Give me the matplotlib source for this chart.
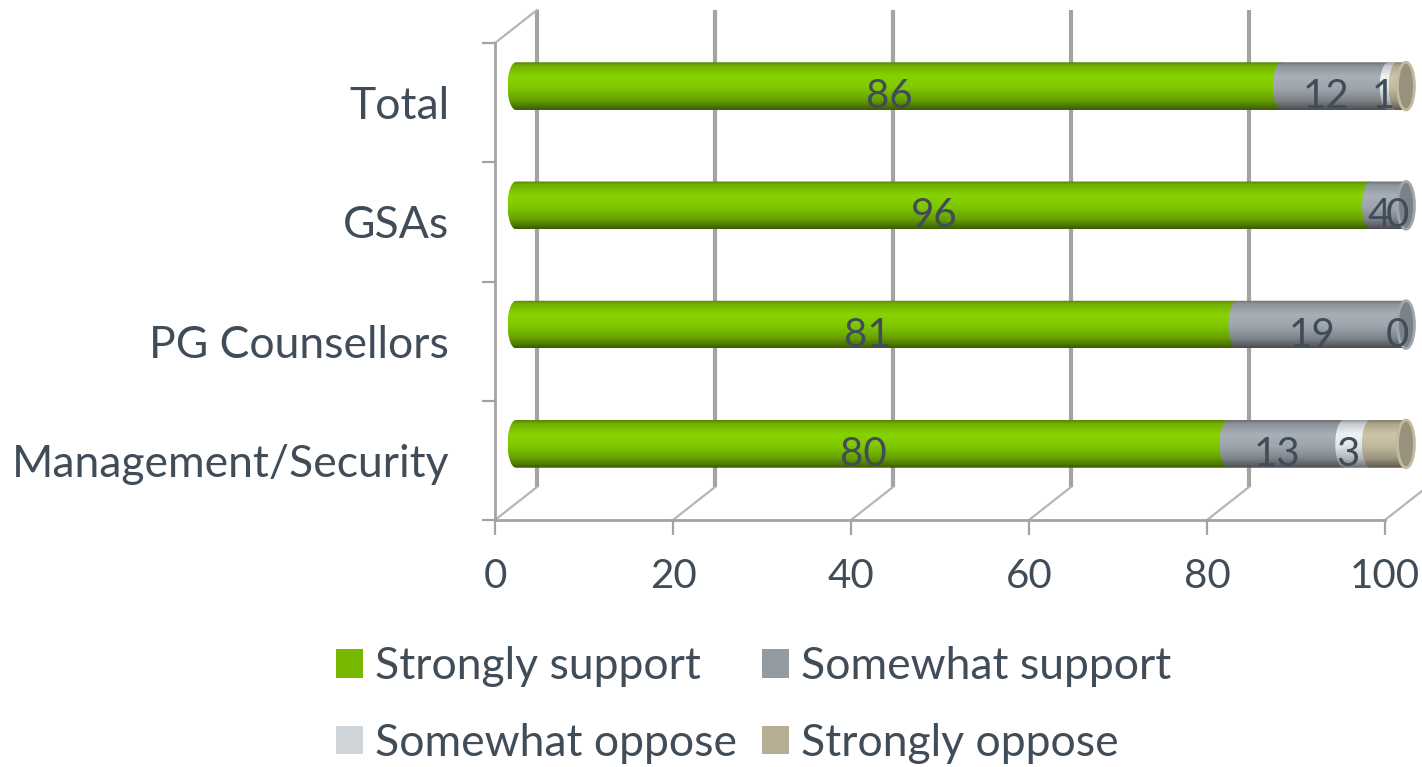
import numpy as np
import matplotlib
matplotlib.use("Agg")
import matplotlib.pyplot as plt
from matplotlib.colors import to_rgb
from matplotlib.patches import Ellipse, Patch, PathPatch
from matplotlib.path import Path

plt.rcParams["font.family"] = ["Lato", "DejaVu Sans"]

# bottom-to-top order, as drawn
categories = ["Management/Security", "PG Counsellors", "GSAs", "Total"]
strongly_support = [80, 81, 96, 86]
somewhat_support = [13, 19, 4, 12]
somewhat_oppose = [3, 0, 0, 1]
strongly_oppose = [4, 0, 0, 1]

series_names = ["Strongly support", "Somewhat support", "Somewhat oppose", "Strongly oppose"]
series_values = [strongly_support, somewhat_support, somewhat_oppose, strongly_oppose]
series_colors = ["#77b900", "#939aa1", "#d0d5d9", "#b5ad94"]
show_labels = [True, True, True, False]
x_ticks = [0, 20, 40, 60, 80, 100]

TEXT = "#404c58"
GRID = "#a3a3a3"
FS_NUM = 29
FS_TXT = 32

fig = plt.figure(figsize=(14.22, 7.67), dpi=100)
W, H = 1422, 767
ax = fig.add_axes([495 / W, (H - 520) / H, 890 / W, 477 / H])
ax.set_xlim(0, 100)
ax.set_ylim(-0.5, len(categories) - 0.5)

# depth offset of the 3-D box, in data units
px_x = 890 / 100
px_y = 477 / len(categories)
dx, dy = 42 / px_x, 33 / px_y
bdx, bdy = dx / 2, dy / 2
y_lo, y_hi = -0.5, len(categories) - 0.5

# back wall gridlines, floor diagonals, side-wall top
for xv in x_ticks:
    ax.plot([xv + dx, xv + dx], [y_lo + dy, y_hi + dy], color=GRID, lw=3,
            zorder=1, clip_on=False, solid_capstyle="butt")
    ax.plot([xv, xv + dx], [y_lo, y_lo + dy], color="#b5b5b5", lw=1.6,
            zorder=1, clip_on=False)
ax.plot([0, dx], [y_hi, y_hi + dy], color="#b5b5b5", lw=1.6, zorder=1, clip_on=False)


def shade(color, f):
    r = np.array(to_rgb(color)) * f
    return np.clip(r, 0, 1)


stops_t = [0.0, 0.07, 0.3, 0.55, 0.8, 0.94, 1.0]
stops_f = [0.72, 0.95, 1.14, 1.07, 0.86, 0.62, 0.5]
tt = np.linspace(0, 1, 64)
profile = np.interp(tt, stops_t, stops_f)

half_h = 0.2
ew = 0.95
theta = np.linspace(np.pi / 2, 3 * np.pi / 2, 40)

for i, cat in enumerate(categories):
    yc = i + bdy
    left = 0.0
    last = None
    for s, vals in enumerate(series_values):
        v = vals[i]
        x0, x1 = left + bdx, left + v + bdx
        if v > 0:
            verts = [(x1, yc + half_h), (x0, yc + half_h)]
            verts += [(x0 + ew * np.cos(t), yc + half_h * np.sin(t)) for t in theta]
            verts += [(x1, yc - half_h), (x1, yc + half_h)]
            codes = [Path.MOVETO] + [Path.LINETO] * (len(verts) - 2) + [Path.CLOSEPOLY]
            clip = PathPatch(Path(verts, codes), transform=ax.transData,
                             facecolor="none", edgecolor="none")
            ax.add_patch(clip)
            grad = np.array([shade(series_colors[s], f) for f in profile])[:, None, :]
            im = ax.imshow(grad, extent=(x0 - ew, x1 + ew, yc - half_h, yc + half_h),
                           aspect="auto", origin="upper", zorder=3 + s * 0.1,
                           interpolation="bilinear")
            im.set_clip_path(clip)
            im.set_clip_box(fig.bbox)
            last = (x1, s)
        if show_labels[s]:
            ax.text(left + v / 2 + 1.35, i + 0.05, f"{v}", ha="center", va="center",
                    fontsize=FS_NUM, color=TEXT, zorder=10, clip_on=False)
        left += v
    if last is not None:
        x1, s = last
        ax.add_patch(Ellipse((x1, yc), 2 * ew, 2 * half_h,
                             facecolor=shade(series_colors[s], 0.84),
                             edgecolor=shade(series_colors[s], 1.08), lw=2,
                             zorder=5, clip_on=False))

ax.set_xlim(0, 100)
ax.set_ylim(y_lo, y_hi)

for side in ["top", "right"]:
    ax.spines[side].set_visible(False)
for side in ["left", "bottom"]:
    ax.spines[side].set_color(GRID)
    ax.spines[side].set_linewidth(2)
ax.set_facecolor("none")

ax.set_xticks(x_ticks)
ax.tick_params(axis="x", direction="out", length=11, width=1.6, color=GRID,
               labelsize=FS_NUM, labelcolor=TEXT, pad=16)
ax.set_yticks(np.arange(-0.5, len(categories), 1.0))
ax.set_yticklabels([])
ax.set_yticks(np.arange(len(categories)), minor=True)
ax.set_yticklabels(categories, minor=True)
ax.tick_params(axis="y", which="major", direction="out", length=9.5, width=1.6, color=GRID)
ax.tick_params(axis="y", which="minor", length=0, labelsize=FS_TXT, labelcolor=TEXT, pad=33)

handles = [Patch(facecolor=c, edgecolor="none") for c in series_colors]
order = [0, 2, 1, 3]
fig.legend([handles[k] for k in order], [series_names[k] for k in order],
           loc="upper left", bbox_to_anchor=(336 / W, (H - 646) / H), ncol=2,
           frameon=False, fontsize=FS_TXT, labelcolor=TEXT, borderpad=0, borderaxespad=0,
           handlelength=0.61, handleheight=0.61, handletextpad=0.27,
           columnspacing=0.56, labelspacing=0.8)

fig.savefig("out.png", dpi=100)
